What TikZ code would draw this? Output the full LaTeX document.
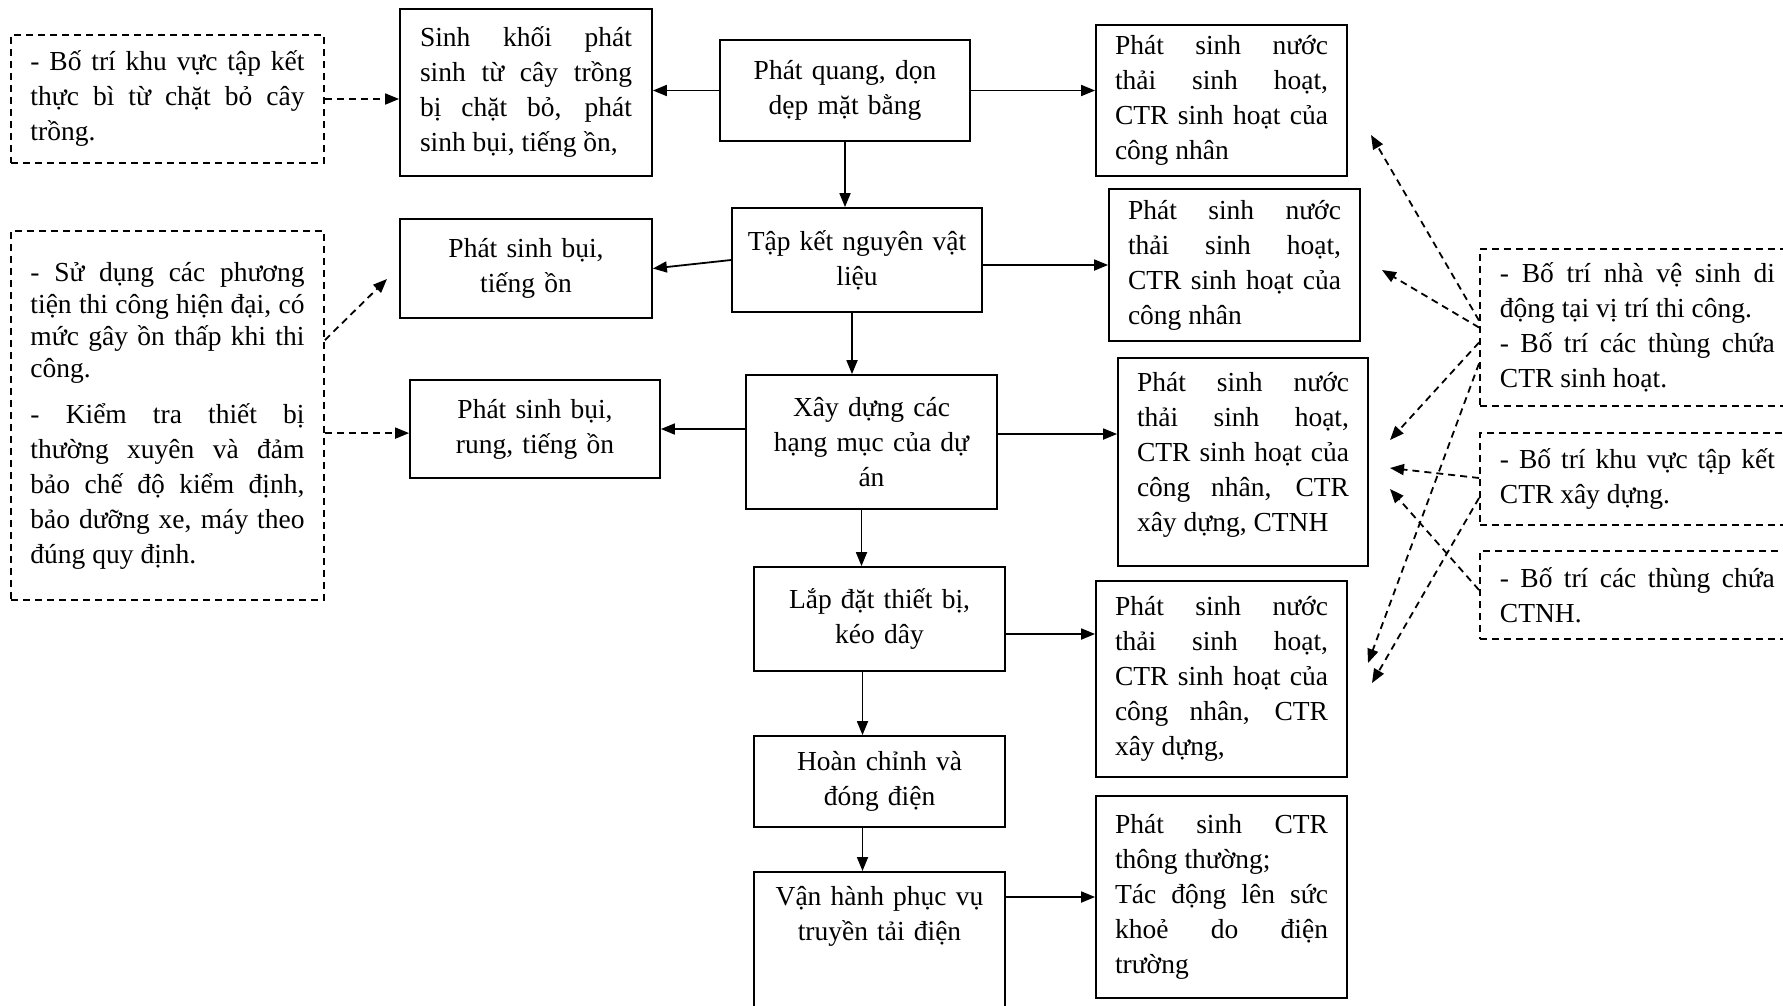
\documentclass[tikz,border=0pt]{standalone}
\usepackage{fontspec}
\setmainfont{Liberation Serif}
\usetikzlibrary{arrows.meta,calc}
\setlength{\parindent}{0pt}
\hbadness=10000
\newcommand{\diagfont}{\fontsize{27.5}{35}\selectfont}

\tikzset{
  effbox/.style={draw, line width=1.8pt, align=justify, text width=213pt,
    inner xsep=19pt, inner ysep=4pt, font=\diagfont},
  stagebox/.style={draw, line width=1.8pt, align=center, text width=230pt,
    inner xsep=10.5pt, inner ysep=4pt, font=\diagfont},
  measbox/.style={draw, line width=1.8pt, dash pattern=on 7pt off 5pt,
    align=justify, text width=274pt, inner xsep=19.5pt, inner ysep=4pt, font=\diagfont},
  flow/.style={-{Triangle[length=14pt,width=11pt]}, line width=1.8pt},
  dasharrow/.style={flow, dash pattern=on 7pt off 5pt},
}

\begin{document}
\begin{tikzpicture}[x=1pt, y=-1pt]
  \path[use as bounding box, fill=white] (0,0) rectangle (1783,1005);

  % Left column: measures
  \node[measbox, minimum height=128pt] (ld1) at (167.5,99)
    {- Bố trí khu vực tập kết\linebreak thực bì từ chặt bỏ cây\linebreak trồng.};
  \node[measbox, minimum height=369pt] (ld2) at (167.5,415.5)
    {{\fontsize{27.5}{32}\selectfont - Sử dụng các phương\linebreak tiện thi công hiện đại, có\linebreak mức gây ồn thấp khi thi\linebreak công.\par}\vspace{11pt}%
     - Kiểm tra thiết bị\linebreak thường xuyên và đảm\linebreak bảo chế độ kiểm định,\linebreak bảo dưỡng xe, máy theo\linebreak đúng quy định.};

  % Second column: impacts on the left
  \node[effbox, text width=212pt, inner xsep=20pt, minimum height=167pt] (ml1) at (526,92.5)
    {Sinh khối phát\linebreak sinh từ cây trồng\linebreak bị chặt bỏ, phát\linebreak sinh bụi, tiếng ồn,};
  \node[stagebox, text width=231pt, minimum height=99pt] (ml2) at (526,268.5)
    {Phát sinh bụi,\\ tiếng ồn};
  \node[stagebox, text width=229pt, minimum height=98pt] (ml3) at (535,429)
    {Phát sinh bụi,\\ rung, tiếng ồn};

  % Centre column: stages
  \node[stagebox, text width=229pt, minimum height=101pt] (c1) at (845,90.5)
    {Phát quang, dọn\\ dẹp mặt bằng};
  \node[stagebox, text width=229pt, minimum height=104pt] (c2) at (857,260)
    {Tập kết nguyên vật\\ liệu};
  \node[stagebox, minimum height=134pt] (c3) at (871.5,442)
    {Xây dựng các\\ hạng mục của dự\\ án};
  \node[stagebox, minimum height=104pt] (c4) at (879.5,619)
    {Lắp đặt thiết bị,\\ kéo dây};
  \node[stagebox, minimum height=91pt] (c5) at (879.5,781.5)
    {Hoàn chỉnh và\\ đóng điện};
  \node[stagebox, anchor=north, inner ysep=14pt] (c6) at (879.5,871)
    {Vận hành phục vụ\\ truyền tải điện\rule[-120pt]{0pt}{0pt}};

  % Right column: impacts on the right
  \node[effbox, minimum height=151pt] (r1) at (1221.5,100.5)
    {Phát sinh nước\linebreak thải sinh hoạt,\linebreak CTR sinh hoạt của\linebreak công nhân};
  \node[effbox, minimum height=152pt] (r2) at (1234.5,265)
    {Phát sinh nước\linebreak thải sinh hoạt,\linebreak CTR sinh hoạt của\linebreak công nhân};
  \node[effbox, text width=212pt, minimum height=208pt] (r3) at (1243,462)
    {Phát sinh nước\linebreak thải sinh hoạt,\linebreak CTR sinh hoạt của\linebreak công nhân, CTR\linebreak xây dựng, CTNH\rule[-21pt]{0pt}{0pt}};
  \node[effbox, minimum height=196pt] (r4) at (1221.5,679)
    {Phát sinh nước\linebreak thải sinh hoạt,\linebreak CTR sinh hoạt của\linebreak công nhân, CTR\linebreak xây dựng,};
  \node[effbox, minimum height=202pt] (r5) at (1221.5,897)
    {Phát sinh CTR\linebreak thông thường;\par Tác động lên sức\linebreak khoẻ do điện\linebreak trường};

  % Far right: measures (cut by the page edge)
  \node[measbox, text width=275pt, inner xsep=20pt, anchor=west, minimum height=157pt] (rd1) at (1479,327.5)
    {- Bố trí nhà vệ sinh di\linebreak động tại vị trí thi công.\par - Bố trí các thùng chứa\linebreak CTR sinh hoạt.};
  \node[measbox, text width=275pt, inner xsep=20pt, anchor=west, minimum height=92pt] (rd2) at (1479,479)
    {- Bố trí khu vực tập kết\linebreak CTR xây dựng.};
  \node[measbox, text width=275pt, inner xsep=20pt, anchor=west, minimum height=88pt] (rd3) at (1479,595)
    {- Bố trí các thùng chứa\linebreak CTNH.};

  % Free ends of the dashed arrows
  \coordinate (tipML2) at (387,279);
  \coordinate (tipR1) at (1371,135);
  \coordinate (tipR2) at (1382,270);
  \coordinate (tipR3a) at (1390,440);
  \coordinate (tipR3b) at (1390,468);
  \coordinate (tipR3c) at (1390,489);
  \coordinate (tipR4a) at (1368,663);
  \coordinate (tipR4b) at (1372,683);

  % Main flow
  \draw[flow] (c1.south) -- (c1.south |- c2.north);
  \draw[flow] ($(c2.south)+(-5,0)$) -- ($(c2.south |- c3.north)+(-5,0)$);
  \draw[flow] ($(c3.south)+(-10,0)$) -- ($(c3.south |- c4.north)+(-10,0)$);
  \draw[flow] ($(c4.south)+(-17,0)$) -- ($(c4.south |- c5.north)+(-17,0)$);
  \draw[flow] ($(c5.south)+(-17,0)$) -- ($(c5.south |- c6.north)+(-17,0)$);

  % Stages to impacts
  \draw[flow] (c1.west) -- (c1.west -| ml1.east);
  \draw[flow] (c2.west) -- (ml2.east);
  \draw[flow] (c3.west |- ml3.east) -- (ml3.east);
  \draw[flow] (c1.east) -- (c1.east -| r1.west);
  \draw[flow] ($(c2.east)+(0,5)$) -- ($(c2.east -| r2.west)+(0,5)$);
  \draw[flow] ($(c3.east)+(0,-8)$) -- ($(c3.east -| r3.west)+(0,-8)$);
  \draw[flow] ($(c4.east)+(0,15)$) -- ($(c4.east -| r4.west)+(0,15)$);
  \draw[flow] ($(c6.north east)+(0,26)$) -- ($(c6.north east -| r5.west)+(0,26)$);

  % Measures to impacts
  \draw[dasharrow] (ld1.east) -- (ld1.east -| ml1.west);
  \draw[dasharrow] ($(ld2.north east)+(0,110)$) -- (tipML2);
  \draw[dasharrow] ($(ld2.north east)+(0,203)$) -- ($(ld2.north east -| ml3.west)+(0,203)$);
  \draw[dasharrow] ($(rd1.west)+(0,-7)$) -- (tipR1);
  \draw[dasharrow] (rd1.west) -- (tipR2);
  \draw[dasharrow] ($(rd1.west)+(0,15)$) -- (tipR3a);
  \draw[dasharrow] ($(rd1.west)+(0,36)$) -- (tipR4a);
  \draw[dasharrow] ($(rd2.west)+(0,-1)$) -- (tipR3b);
  \draw[dasharrow] ($(rd2.west)+(0,19)$) -- (tipR4b);
  \draw[dasharrow] ($(rd3.west)+(0,-5)$) -- (tipR3c);
\end{tikzpicture}
\end{document}
